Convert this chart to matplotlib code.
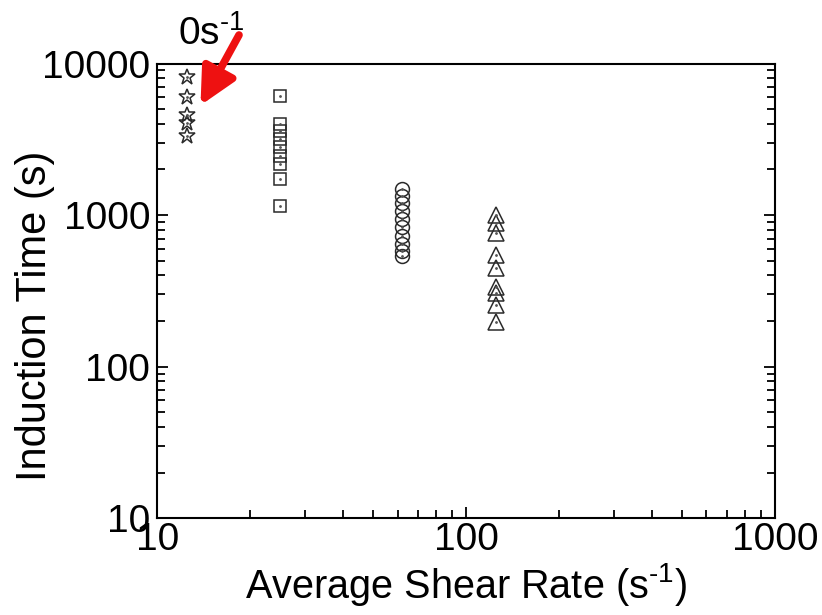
import matplotlib
matplotlib.use("Agg")
import matplotlib.pyplot as plt
from matplotlib.ticker import LogLocator, NullFormatter, FixedLocator, FixedFormatter

plt.rcParams['font.family'] = ['Liberation Sans', 'DejaVu Sans']
plt.rcParams['mathtext.fontset'] = 'custom'
plt.rcParams['mathtext.rm'] = 'Liberation Sans'

# Induction time measurements at each average shear rate
shear_still = 12.5
time_still = [8200, 6050, 4570, 4060, 3300]

shear_25 = 25
time_25 = [6060, 3990, 3590, 3180, 2810, 2450, 2175, 1720, 1140]

shear_62 = 62
time_62 = [1490, 1340, 1200, 1065, 945, 835, 730, 645, 580, 540]

shear_125 = 125
time_125 = [1000, 887, 762, 546, 448, 336, 306, 255, 196]

x_ticks = [10, 100, 1000]
x_tick_labels = ["10", "100", "1000"]
y_ticks = [10, 100, 1000, 10000]
y_tick_labels = ["10", "100", "1000", "10000"]

W, H = 822, 615
fig = plt.figure(figsize=(W / 100, H / 100), dpi=100)
ax = fig.add_axes([157.3 / W, (H - 518.3) / H, (775 - 157.3) / W, (518.3 - 63.5) / H])
ax.set_xscale('log')
ax.set_yscale('log')
ax.set_xlim(10, 1000)
ax.set_ylim(10, 10000)

edge = '#2a2a2a'
series = [
    (shear_still, time_still, '*', 12),
    (shear_25, time_25, 's', 8),
    (shear_62, time_62, 'o', 10),
    (shear_125, time_125, '^', 11),
]
for xv, yv, mk, ms in series:
    xs = [xv] * len(yv)
    ax.plot(xs, yv, linestyle='none', marker=mk, markersize=ms,
            markerfacecolor='none', markeredgecolor=edge, markeredgewidth=1.1,
            clip_on=False, zorder=3)
    ax.plot(xs, yv, linestyle='none', marker='.', markersize=2,
            color='#555555', zorder=4)

ax.xaxis.set_major_locator(FixedLocator(x_ticks))
ax.xaxis.set_major_formatter(FixedFormatter(x_tick_labels))
ax.yaxis.set_major_locator(FixedLocator(y_ticks))
ax.yaxis.set_major_formatter(FixedFormatter(y_tick_labels))
ax.xaxis.set_minor_locator(LogLocator(base=10, subs=range(2, 10)))
ax.yaxis.set_minor_locator(LogLocator(base=10, subs=range(2, 10)))
ax.xaxis.set_minor_formatter(NullFormatter())
ax.yaxis.set_minor_formatter(NullFormatter())

ax.tick_params(which='both', direction='in', top=False, right=True,
               width=1.3, colors='black')
ax.tick_params(which='major', length=8, labelsize=28)
ax.tick_params(axis='x', which='major', pad=3)
ax.tick_params(axis='y', which='major', pad=5)
ax.tick_params(which='minor', length=6)
for s in ax.spines.values():
    s.set_linewidth(1.5)

ax.set_xlabel(r'Average Shear Rate (s$^{\text{-1}}$)', fontsize=28.5, labelpad=2)
fig.text(35 / W, 1 - 316 / H, 'Induction Time (s)', fontsize=30,
         rotation=90, ha='center', va='center')

# Label for the zero-shear (quiescent) series
fig.text(178 / W, 1 - 45 / H, r'0s$^{\text{-1}}$', fontsize=28, ha='left', va='baseline')
ax.annotate('', xy=(13.8, 5300), xycoords='data',
            xytext=(239 / W, 1 - 35 / H), textcoords='figure fraction',
            arrowprops=dict(arrowstyle='-|>,head_length=2.2,head_width=1.1',
                            color='#ee1111', lw=5.5, shrinkA=0, shrinkB=0),
            annotation_clip=False)

fig.savefig('out.png', dpi=100)
